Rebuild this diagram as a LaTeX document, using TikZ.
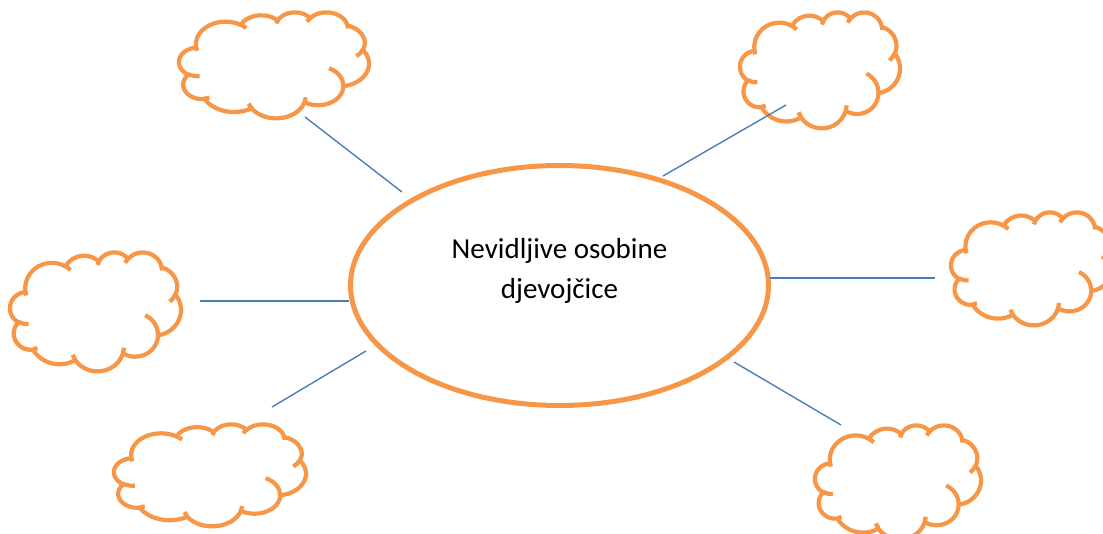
\documentclass[tikz,border=0pt]{standalone}
\usepackage{fontspec}
\setmainfont{Carlito}
\usetikzlibrary{shapes.geometric}
\definecolor{cloudorange}{HTML}{F79646}
\definecolor{linkblue}{HTML}{4A7EBB}
\tikzset{
  cloudline/.style={draw=cloudorange, line width=4.2pt},
  link/.style={draw=linkblue, line width=1.4pt},
  bubble/.style={ellipse, draw=cloudorange, line width=5pt, fill=white,
    minimum width=418pt, minimum height=240pt, inner sep=0pt},
  centertext/.style={font=\fontsize{29}{40}\selectfont, align=center, inner sep=0pt},
  pics/wcloud/.style 2 args={code={
    \begin{scope}[x=1cm, y=1cm, xscale={#1/1229.16}, yscale={-#2/1229.16}, shift={(-21.6,-21.6)}]
      % outline
      \filldraw[cloudline, fill=white] (3.9,14.37)
        \foreach \rx/\ry/\st/\sw in {6.753/9.190/-190.48748/123.78053,
          5.333/7.267/-144.10238/89.94523, 4.365/5.945/-145.80792/99.72302,
          4.857/6.595/-130.98607/117.24173, 5.333/7.273/-78.70888/109.02692,
          6.775/9.220/-46.26725/130.269, 5.785/7.867/0.62502/114.03333,
          6.752/9.215/22.4516/115.17255, 7.720/10.543/66.24263/75.71102,
          4.360/5.918/-274.94208/146.73557, 4.345/5.945/-246.8285/152.51885}
        { arc[start angle={atan2(\rx*sin(\st),\ry*cos(\st))},
            delta angle={mod(atan2(\rx*sin(\st+\sw),\ry*cos(\st+\sw))-atan2(\rx*sin(\st),\ry*cos(\st))+720,360)},
            x radius=\rx, y radius=\ry] } -- cycle;
      % inner curls
      \draw[cloudline]
        \foreach \px/\py/\rx/\ry/\st/\sw in {4.693/26.177/4.345/5.945/86.742/26.4295,
          6.928/34.899/4.360/5.918/73.61047/11.44747, 16.478/39.090/6.752/9.215/137.62415/14.0811,
          28.827/34.751/6.752/9.215/6.45327/15.99835, 34.129/22.954/5.785/7.867/-70.29235/70.91737,
          41.798/15.354/5.333/7.273/30.31803/27.7515, 38.324/5.426/4.857/6.595/-13.74433/14.8589,
          29.078/3.952/4.857/6.595/-149.18145/18.19537, 22.141/4.720/4.365/5.945/-163.49427/17.68635,
          14.000/5.192/6.753/9.190/-66.70695/12.31935, 4.127/15.789/6.753/9.190/157.65435/11.85817}
        { (\px,\py) arc[start angle={atan2(\rx*sin(\st),\ry*cos(\st))},
            delta angle={mod(atan2(\rx*sin(\st+\sw),\ry*cos(\st+\sw))-atan2(\rx*sin(\st),\ry*cos(\st))+720,360)},
            x radius=\rx, y radius=\ry] };
    \end{scope}
  }}
}
\begin{document}
\begin{tikzpicture}[x=1pt, y=-1pt]
  \useasboundingbox (0,0) rectangle (1103,534);
  % clouds round the middle
  \pic (cloudtl) at (274,65) {wcloud={190}{106}};
  \pic (cloudtr) at (820,70) {wcloud={160}{116}};
  \pic (cloudl) at (95.5,311.5) {wcloud={171}{119}};
  \pic (cloudr) at (1032,268.5) {wcloud={162}{113}};
  \pic (cloudbl) at (210,475) {wcloud={192}{102}};
  \pic (cloudbr) at (898,482) {wcloud={166}{114}};
  \node[bubble] (mid) at (559.5,285.5) {};
  \node[centertext] (midtext) at (559.5,271) {Nevidljive osobine\\djevojčice};
  \coordinate (tla) at (305,117);
  \coordinate (tlb) at (402,192);
  \coordinate (tra) at (786,105);
  \coordinate (trb) at (663,176);
  \coordinate (la) at (200,301);
  \coordinate (lb) at (349,301);
  \coordinate (ra) at (935,278);
  \coordinate (rb) at (770,278);
  \coordinate (bla) at (272,407);
  \coordinate (blb) at (366,351);
  \coordinate (bra) at (841,425);
  \coordinate (brb) at (734,362);
  \draw[link] (tla) -- (tlb);
  \draw[link] (tra) -- (trb);
  \draw[link] (la) -- (lb);
  \draw[link] (ra) -- (rb);
  \draw[link] (bla) -- (blb);
  \draw[link] (bra) -- (brb);
\end{tikzpicture}
\end{document}
